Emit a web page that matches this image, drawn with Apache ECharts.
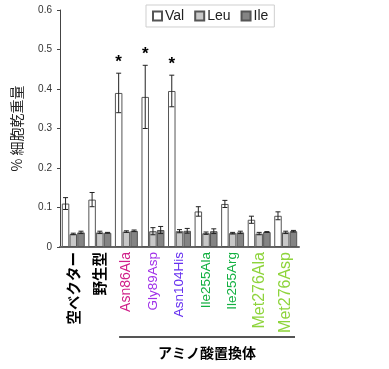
<!DOCTYPE html>
<html><head><meta charset="utf-8">
<script src="https://cdn.jsdelivr.net/npm/echarts@6/dist/echarts.min.js"></script>
<style>html,body{margin:0;padding:0;background:#fff}#c{width:389px;height:369px}</style>
</head><body><div id="c"></div>
<script>
// ---- data ----
const categories = ['空ベクター','野生型','Asn86Ala','Gly89Asp','Asn104His','Ile255Ala','Ile255Arg','Met276Ala','Met276Asp'];
const valValues = [0.110, 0.120, 0.390, 0.380, 0.395, 0.090, 0.109, 0.069, 0.079];
const valErrors = [0.015, 0.018, 0.050, 0.080, 0.040, 0.012, 0.009, 0.009, 0.010];
const leuValues = [0.033, 0.037, 0.039, 0.040, 0.040, 0.035, 0.035, 0.034, 0.037];
const leuErrors = [0.002, 0.003, 0.002, 0.009, 0.004, 0.003, 0.002, 0.003, 0.003];
const ileValues = [0.037, 0.036, 0.041, 0.043, 0.041, 0.040, 0.037, 0.038, 0.040];
const ileErrors = [0.003, 0.001, 0.002, 0.009, 0.006, 0.006, 0.003, 0.001, 0.002];
const significant = [false, false, true, true, true, false, false, false, false];
const yTicks = [0, 0.1, 0.2, 0.3, 0.4, 0.5, 0.6];
const seriesNames = ['Val','Leu','Ile'];
const groupLabel = 'アミノ酸置換体';
const yAxisTitle = '% 細胞乾重量';

// ---- styles ----
const labelColors = ['#000','#000','#d0208a','#a030e8','#6630f0','#12b040','#12b040','#8ed43c','#8ed43c'];
const labelBold = [true,true,false,false,false,false,false,false,false];
const labelSizes = [14.5,14.5,14,13.5,13.5,13.5,13.5,16,16];
const fills = ['#ffffff','#c8c8c8','#848484'];
const BW = 7.5, GAP = 0.03;
const FONT = '"Liberation Sans", Arial, "Noto Sans CJK JP", sans-serif';

const chart = echarts.init(document.getElementById('c'));
const catData = categories.map((c,i)=>({
  value:c,
  textStyle:{color:labelColors[i], fontWeight: labelBold[i]?'bold':'normal', fontSize: labelSizes[i],
    fontFamily: labelBold[i] ? '"Noto Sans CJK JP", sans-serif' : FONT}
}));
const values = [valValues, leuValues, ileValues];
const errors = [valErrors, leuErrors, ileErrors];

function errSeries(k){
  return {
    type:'custom', name:seriesNames[k]+'err', z:5, silent:true,
    data: values[k].map((v,i)=>[i, v, errors[k][i]]),
    renderItem:(params, api)=>{
      const i = api.value(0), v = api.value(1), e = api.value(2);
      const off = (k-1)*BW*(1+GAP);
      const top = api.coord([i, v+e]), bot = api.coord([i, v-e]);
      const x = top[0]+off, h = 2.5;
      return {type:'group', children:[
        {type:'line', shape:{x1:x,y1:top[1],x2:x,y2:bot[1]}, style:{stroke:'#222',lineWidth:1}},
        {type:'line', shape:{x1:x-h,y1:top[1],x2:x+h,y2:top[1]}, style:{stroke:'#222',lineWidth:1}},
        {type:'line', shape:{x1:x-h,y1:bot[1],x2:x+h,y2:bot[1]}, style:{stroke:'#222',lineWidth:1}}
      ]};
    }
  };
}

const starSeries = {
  type:'custom', z:6, silent:true,
  data: valValues.map((v,i)=>[i, v+valErrors[i], significant[i]?1:0]),
  renderItem:(params, api)=>{
    if(!api.value(2)) return null;
    const p = api.coord([api.value(0), api.value(1)]);
    const x = p[0] + (-1)*BW*(1+GAP);
    return {type:'text', style:{text:'*', x:x, y:p[1]-2, textAlign:'center', textVerticalAlign:'bottom',
      font:'bold 17px "Liberation Sans", Arial', fill:'#000'}};
  }
};

const option = {
  animation:false,
  grid:{left:60, right:90, top:10, bottom:122, containLabel:false},
  legend:{
    data:seriesNames, left:146, top:5, itemWidth:9, itemHeight:9, itemGap:10,
    padding:[4,6,4,6], borderColor:'#cfcfcf', borderWidth:1,
    textStyle:{fontSize:14, color:'#222', fontFamily:FONT, padding:[0,0,0,-2]},
    icon:'rect'
  },
  xAxis:{
    type:'category', data:catData,
    axisLine:{lineStyle:{color:'#666', width:2}},
    axisTick:{show:false},
    axisLabel:{rotate:90, interval:0, margin:5}
  },
  yAxis:{
    type:'value', min:0, max:0.6, interval:0.1,
    name:yAxisTitle, nameLocation:'middle', nameRotate:90, nameGap:36,
    nameTextStyle:{fontSize:14, color:'#222', fontFamily:'"Noto Sans CJK JP", sans-serif'},
    axisLine:{show:true, lineStyle:{color:'#444'}},
    axisTick:{show:true, length:3, lineStyle:{color:'#444'}},
    splitLine:{show:false},
    axisLabel:{fontSize:10, color:'#333', fontFamily:FONT, margin:8,
      formatter:(v)=>{const t=yTicks.find(x=>Math.abs(x-v)<1e-9); return t===undefined?'':String(t);}}
  },
  series:[
    ...seriesNames.map((n,k)=>({
      type:'bar', name:n, data:values[k], barWidth:BW, barGap:(GAP*100)+'%',
      itemStyle:{color:fills[k], borderColor:'#555', borderWidth:1}
    })),
    errSeries(0), errSeries(1), errSeries(2), starSeries
  ]
};
chart.setOption(option);

// bracket under substitution mutants
const firstMut = 2, lastMut = categories.length-1;
const xa = chart.convertToPixel({xAxisIndex:0}, categories[firstMut]);
const xb = chart.convertToPixel({xAxisIndex:0}, categories[lastMut]);
const half = (xb-xa)/(lastMut-firstMut)/2;
const lx1 = xa-half+6, lx2 = xb+half-4, ly = 337;
chart.setOption({graphic:[
  {type:'line', shape:{x1:lx1,y1:ly,x2:lx2,y2:ly}, style:{stroke:'#555', lineWidth:2}},
  {type:'text', x:(lx1+lx2)/2, y:ly+16, style:{text:groupLabel, textAlign:'center', textVerticalAlign:'middle',
    font:'bold 14px "Noto Sans CJK JP", sans-serif', fill:'#000'}}
]});
</script>
</body></html>
